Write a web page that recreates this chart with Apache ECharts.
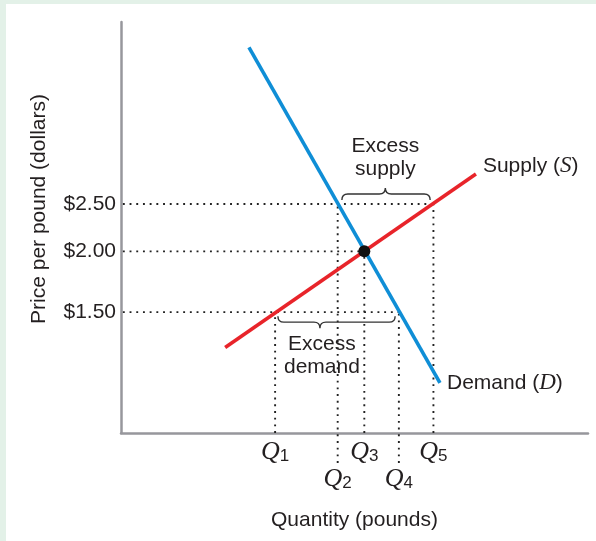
<!DOCTYPE html>
<html>
<head>
<meta charset="utf-8">
<script src="https://cdn.jsdelivr.net/npm/echarts@6/dist/echarts.min.js"></script>
<style>
  html, body { margin: 0; padding: 0; background: #e3f1e8; }
  #chart { position: absolute; left: 6px; top: 4px; width: 590px; height: 537px; background: #fff; }
</style>
</head>
<body>
<div id="chart"></div>
<script>
// chart units: x and y both run 0..100 across the plot (no numeric scale in the figure)
const quantities = [33.0, 46.4, 52.1, 59.5, 66.9];   // Q1..Q5
const qSubs = ['1', '2', '3', '4', '5'];
const priceLevels = [29.4, 44.2, 55.7];               // $1.50, $2.00, $2.50
const priceLabels = ['$1.50', '$2.00', '$2.50'];
const supply = [[22.3, 20.8], [76.0, 63.0]];
const demand = [[27.4, 93.8], [68.3, 12.2]];
const equilibrium = [52.1, 44.2];

// which price each Q guide climbs to, and where it starts
const qGuideTop = [0, 2, 1, 0, 2];
const qGuideBottom = [0, -7.3, 0, -7.3, 0];
// which Q each price guide runs out to
const priceGuideEnd = [3, 2, 4];

// braces
const braceFrom = [47.3, 33.6];
const braceTo = [66.2, 58.7];
const braceTip = [56.6, 42.6];
const braceLevel = [priceLevels[2], priceLevels[0]];
const braceDir = [-1, 1];
const braceText = ['Excess\nsupply', 'Excess\ndemand'];

const txt = '#231f20';
const sans = 'Liberation Sans';
const serif = 'Liberation Serif';

const chart = echarts.init(document.getElementById('chart'));

const dotted = { color: '#222', width: 1.9, type: [1.9, 4.8] };
const guides = [];
quantities.forEach((q, i) => {
  guides.push({
    type: 'line', data: [[q, qGuideBottom[i]], [q, priceLevels[qGuideTop[i]]]],
    symbol: 'none', lineStyle: dotted, clip: false, z: 1, silent: true
  });
});
priceLevels.forEach((p, i) => {
  guides.push({
    type: 'line', data: [[0.4, p], [quantities[priceGuideEnd[i]], p]],
    symbol: 'none', lineStyle: dotted, z: 1, silent: true
  });
});

function braceItem(params, api) {
  const i = params.dataIndex;
  const s = braceDir[i];
  const p1 = api.coord([api.value(0), api.value(2)]);
  const p2 = api.coord([api.value(1), api.value(2)]);
  const pm = api.coord([api.value(3), api.value(2)]);
  const x1 = p1[0], x2 = p2[0], y0 = p1[1], m = pm[0], r = 6;
  const a = y0 + s * 4, b = y0 + s * 10, c = y0 + s * 16;
  const d = ['M', x1, a, 'Q', x1, b, x1 + r, b, 'L', m - r, b, 'Q', m, b, m, c,
    'Q', m, b, m + r, b, 'L', x2 - r, b, 'Q', x2, b, x2, a].join(' ');
  return {
    type: 'group',
    children: [
      { type: 'path', shape: { pathData: d }, style: { fill: 'none', stroke: '#333', lineWidth: 1.4 } },
      {
        type: 'text', x: m + (s < 0 ? 0 : 2), y: s < 0 ? c - 7 : c + 5,
        style: {
          text: braceText[i], fill: txt, fontFamily: sans, fontSize: 21, lineHeight: 23,
          align: 'center', verticalAlign: s < 0 ? 'bottom' : 'top'
        }
      }
    ]
  };
}

chart.setOption({
  animation: false,
  grid: { left: 115, top: 18, right: 8, bottom: 108 },
  xAxis: {
    type: 'value', min: 0, max: 100,
    name: 'Quantity (pounds)', nameLocation: 'middle', nameGap: 77,
    nameTextStyle: { color: txt, fontFamily: sans, fontSize: 21 },
    axisLine: { onZero: false, lineStyle: { color: '#97979c', width: 2.5 } },
    axisTick: { show: false },
    splitLine: { show: false },
    axisLabel: {
      customValues: quantities, margin: 6,
      formatter: v => {
        const i = quantities.indexOf(v);
        return (i % 2 === 1 ? '{gap| }\n' : '') + '{q|Q}{s|' + qSubs[i] + '}';
      },
      rich: {
        gap: { fontSize: 10, lineHeight: 27 },
        q: { fontFamily: serif, fontStyle: 'italic', fontSize: 26, lineHeight: 26, color: txt },
        s: { fontFamily: sans, fontSize: 17, lineHeight: 12, verticalAlign: 'bottom', color: txt }
      }
    }
  },
  yAxis: {
    type: 'value', min: 0, max: 100,
    axisLine: { show: true, onZero: false, lineStyle: { color: '#97979c', width: 2.5 } },
    axisTick: { show: false },
    splitLine: { show: false },
    axisLabel: {
      customValues: priceLevels, margin: 5,
      color: txt, fontFamily: sans, fontSize: 21,
      formatter: v => priceLabels[priceLevels.indexOf(v)]
    }
  },
  graphic: [{
    type: 'text', x: 33, y: 205, rotation: Math.PI / 2,
    style: {
      text: 'Price per pound (dollars)', fill: txt, fontFamily: sans, fontSize: 21,
      align: 'center', verticalAlign: 'middle'
    }
  }],
  series: guides.concat([
    {
      type: 'custom', renderItem: braceItem, clip: false, silent: true,
      encode: { x: [0, 1], y: 2 },
      data: braceFrom.map((f, i) => [f, braceTo[i], braceLevel[i], braceTip[i]])
    },
    {
      name: 'Supply', type: 'line', data: supply, symbol: 'none', z: 3,
      lineStyle: { color: '#e8242a', width: 3.6 },
      endLabel: {
        show: true, distance: 5, offset: [2, -8],
        formatter: '{a|Supply (}{b|S}{a|)}',
        rich: {
          a: { fontFamily: sans, fontSize: 21, color: txt },
          b: { fontFamily: serif, fontStyle: 'italic', fontSize: 23, color: txt }
        }
      }
    },
    {
      name: 'Demand', type: 'line', data: demand, symbol: 'none', z: 3,
      lineStyle: { color: '#0f8ed6', width: 3.6 },
      endLabel: {
        show: true, distance: 5, offset: [2, 0],
        formatter: '{a|Demand (}{b|D}{a|)}',
        rich: {
          a: { fontFamily: sans, fontSize: 21, color: txt },
          b: { fontFamily: serif, fontStyle: 'italic', fontSize: 23, color: txt }
        }
      }
    },
    {
      type: 'scatter', data: [equilibrium], symbolSize: 12, z: 4,
      itemStyle: { color: '#111', opacity: 1 }
    }
  ])
});
</script>
</body>
</html>
